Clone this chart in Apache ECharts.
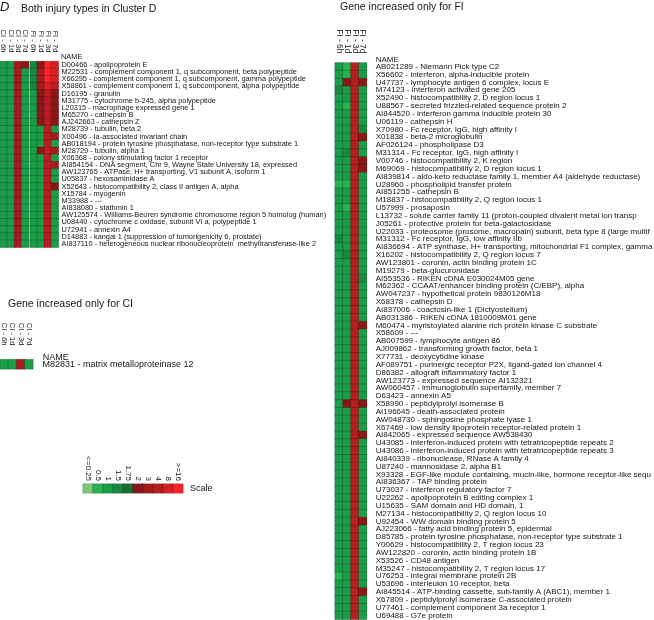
<!DOCTYPE html>
<html>
<head>
<meta charset="utf-8">
<script src="https://cdn.jsdelivr.net/npm/echarts@6/dist/echarts.min.js"></script>
<style>
  html, body { margin: 0; padding: 0; background: #fff; }
  #chart { width: 654px; height: 620px; }
</style>
</head>
<body>
<div id="chart"></div>
<script>
const colsDci = ["CI - 6h", "CI - 1d", "CI - 3d", "CI - 7d"];
const colsDfi = ["FI - 6h", "FI - 1d", "FI - 3d", "FI - 7d"];

const genesD = [
  "D00466 - apolipoprotein E",
  "M22531 - complement component 1, q subcomponent, beta polypeptide",
  "X66295 - complement component 1, q subcomponent, gamma polypeptide",
  "X58861 - complement component 1, q subcomponent, alpha polypeptide",
  "D16195 - granulin",
  "M31775 - cytochrome b-245, alpha polypeptide",
  "L20315 - macrophage expressed gene 1",
  "M65270 - cathepsin B",
  "AJ242663 - cathepsin Z",
  "M28739 - tubulin, beta 2",
  "X00496 - Ia-associated invariant chain",
  "AB018194 - protein tyrosine phosphatase, non-receptor type substrate 1",
  "M28729 - tubulin, alpha 1",
  "X06368 - colony stimulating factor 1 receptor",
  "AI854154 - DNA segment, Chr 9, Wayne State University 18, expressed",
  "AW123765 - ATPase, H+ transporting, V1 subunit A, isoform 1",
  "U05837 - hexosaminidase A",
  "X52643 - histocompatibility 2, class II antigen A, alpha",
  "X15784 - myogenin",
  "M33988 - ---",
  "AI838080 - stathmin 1",
  "AW125574 - Williams-Beuren syndrome chromosome region 5 homolog (human)",
  "U08440 - cytochrome c oxidase, subunit VI a, polypeptide 1",
  "U72941 - annexin A4",
  "D14883 - kangai 1 (suppression of tumorigenicity 6, prostate)",
  "AI837110 - heterogeneous nuclear ribonucleoprotein  methyltransferase-like 2",
];
// CI 6h,1d,3d,7d | FI 6h,1d,3d,7d
const valuesD = [
  [1, 1, 3, 2, 1.5, 2, 16, 8],
  [1, 1, 3, 1, 1.5, 3, 16, 8],
  [1, 1, 3, 1, 1.5, 3, 16, 8],
  [1, 1, 3, 1, 1.5, 3, 8, 4],
  [1, 1, 3, 1, 1, 2, 4, 2],
  [1, 1, 3, 1, 1, 2, 4, 2],
  [1, 1, 3, 1, 1, 2, 4, 2],
  [1, 1, 3, 1, 1, 2, 4, 2],
  [1, 1, 3, 1, 1, 2, 4, 2],
  [1, 1, 3, 1, 1, 1, 4, 1],
  [1, 1, 3, 1, 1, 1, 4, 3],
  [1, 1, 3, 1, 1, 1, 4, 1],
  [1, 1, 3, 1, 1, 2, 4, 3],
  [1, 1, 3, 1, 1, 1, 4, 1],
  [1, 1, 3, 1, 1, 1, 4, 3],
  [1, 1, 3, 1, 1, 1, 4, 1],
  [1, 1, 3, 1, 1, 1, 4, 1],
  [1, 1, 3, 1, 1, 1, 4, 2],
  [1, 1, 3, 1, 1, 1, 4, 1],
  [1, 1, 3, 1, 1, 1, 4, 1],
  [1, 1, 3, 1, 1, 1, 4, 1],
  [1, 1, 3, 1, 1, 1, 4, 1],
  [1, 1, 3, 1, 1, 1, 4, 1],
  [1, 1, 3, 1, 1, 1, 4, 1],
  [1, 1, 3, 1, 1, 1, 4, 1],
  [1, 1, 3, 1, 1, 1, 4, 1],
];

const colsCI = ["CI - 6h", "CI - 1d", "CI - 3d", "CI - 7d"];
const genesCI = ["M82831 - matrix metalloproteinase 12"];
const valuesCI = [[1, 1, 3, 1]];

const colsFI = ["FI - 6h", "FI - 1d", "FI - 3d", "FI - 7d"];
const genesFI = [
  "AB021289 - Niemann Pick type C2",
  "X56602 - interferon, alpha-inducible protein",
  "U47737 - lymphocyte antigen 6 complex, locus E",
  "M74123 - interferon activated gene 205",
  "X52490 - histocompatibility 2, D region locus 1",
  "U88567 - secreted frizzled-related sequence protein 2",
  "AI844520 - interferon gamma inducible protein 30",
  "U06119 - cathepsin H",
  "X70980 - Fc receptor, IgG, high affinity I",
  "X01838 - beta-2 microglobulin",
  "AF026124 - phospholipase D3",
  "M31314 - Fc receptor, IgG, high affinity I",
  "V00746 - histocompatibility 2, K region",
  "M69069 - histocompatibility 2, D region locus 1",
  "AI839814 - aldo-keto reductase family 1, member A4 (aldehyde reductase)",
  "U28960 - phospholipid transfer protein",
  "AI851255 - cathepsin B",
  "M18837 - histocompatibility 2, Q region locus 1",
  "U57999 - prosaposin",
  "L13732 - solute carrier family 11 (proton-coupled divalent metal ion transp",
  "J05261 - protective protein for beta-galactosidase",
  "U22033 - proteosome (prosome, macropain) subunit, beta type 8 (large multif",
  "M31312 - Fc receptor, IgG, low affinity IIb",
  "AI836694 - ATP synthase, H+ transporting, mitochondrial F1 complex, gamma p",
  "X16202 - histocompatibility 2, Q region locus 7",
  "AW123801 - coronin, actin binding protein 1C",
  "M19279 - beta-glucuronidase",
  "AI553536 - RIKEN cDNA E030024M05 gene",
  "M62362 - CCAAT/enhancer binding protein (C/EBP), alpha",
  "AW047237 - hypothetical protein 9830126M18",
  "X68378 - cathepsin D",
  "AI837006 - coactosin-like 1 (Dictyostelium)",
  "AB031386 - RIKEN cDNA 1810009M01 gene",
  "M60474 - myristoylated alanine rich protein kinase C substrate",
  "X58609 - ---",
  "AB007599 - lymphocyte antigen 86",
  "AJ009862 - transforming growth factor, beta 1",
  "X77731 - deoxycytidine kinase",
  "AF089751 - purinergic receptor P2X, ligand-gated ion channel 4",
  "D86382 - allograft inflammatory factor 1",
  "AW123773 - expressed sequence AI132321",
  "AW060457 - immunoglobulin superfamily, member 7",
  "D63423 - annexin A5",
  "X58990 - peptidylprolyl isomerase B",
  "AI196645 - death-associated protein",
  "AW048730 - sphingosine phosphate lyase 1",
  "X67469 - low density lipoprotein receptor-related protein 1",
  "AI842065 - expressed sequence AW538430",
  "U43085 - interferon-induced protein with tetratricopeptide repeats 2",
  "U43086 - interferon-induced protein with tetratricopeptide repeats 3",
  "AI840339 - ribonuclease, RNase A family 4",
  "U87240 - mannosidase 2, alpha B1",
  "X93328 - EGF-like module containing, mucin-like, hormone receptor-like sequ",
  "AI836367 - TAP binding protein",
  "U73037 - interferon regulatory factor 7",
  "U22262 - apolipoprotein B editing complex 1",
  "U15635 - SAM domain and HD domain, 1",
  "M27134 - histocompatibility 2, Q region locus 10",
  "U92454 - WW domain binding protein 5",
  "AJ223066 - fatty acid binding protein 5, epidermal",
  "D85785 - protein tyrosine phosphatase, non-receptor type substrate 1",
  "Y00629 - histocompatibility 2, T region locus 23",
  "AW122820 - coronin, actin binding protein 1B",
  "X53526 - CD48 antigen",
  "M35247 - histocompatibility 2, T region locus 17",
  "U76253 - integral membrane protein 2B",
  "U53696 - interleukin 10 receptor, beta",
  "AI845514 - ATP-binding cassette, sub-family A (ABC1), member 1",
  "X67809 - peptidylprolyl isomerase C-associated protein",
  "U77461 - complement component 3a receptor 1",
  "U69488 - G7e protein",
];
const valuesFI = [
  [1, 0.5, 4, 1], [1, 0.5, 4, 1], [1, 2, 4, 2], [1.5, 1, 4, 1], [1, 1, 4, 1],
  [1, 0.5, 4, 1], [1, 1, 4, 1], [1, 1, 4, 1], [1, 1, 4, 1.5], [1, 1, 4, 2],
  [1, 1, 4, 1], [1, 1.5, 4, 1], [1, 1, 4, 2], [1, 1, 4, 2], [1, 1, 4, 1],
  [0.5, 0.5, 4, 1], [1, 1, 4, 1], [1, 1, 4, 1], [1, 0.5, 4, 1], [1, 1, 4, 1],
  [1, 1, 4, 1], [1, 1, 4, 1], [1.5, 1, 4, 1], [1, 1, 4, 1], [1, 1.5, 4, 1],
  [1, 1, 4, 1], [1, 1, 4, 1], [1, 1, 4, 1.5], [1, 1, 4, 1], [1, 1, 4, 1],
  [1, 1, 4, 1], [1, 1, 4, 1], [1, 1, 4, 1], [1, 1, 4, 2], [1, 1, 4, 1],
  [1, 1, 4, 1], [1, 1, 4, 1], [1, 1, 4, 1], [1, 1, 4, 1], [1, 1, 4, 1],
  [1, 1, 4, 1], [1, 1, 4, 1], [1, 1, 4, 1], [1, 2, 4, 2], [1, 1, 4, 1],
  [1, 1, 4, 1], [1, 1, 4, 1], [1, 1, 4, 2], [1, 1, 4, 1], [1, 1, 4, 1],
  [1, 1, 4, 1], [1, 1, 4, 1], [1, 1, 4, 1], [1, 1, 4, 1], [1, 1, 4, 1],
  [1, 1, 4, 1], [1, 1, 4, 1], [1, 1, 4, 1], [1, 1, 4, 2], [1, 1, 4, 1],
  [1, 1, 4, 1], [1, 1, 4, 1], [1, 1, 4, 1], [1, 1, 4, 1], [1, 1, 4, 1],
  [0.5, 1, 4, 1], [1, 1, 4, 1], [1, 1, 4, 2], [1, 1, 4, 1], [1, 1, 4, 1],
  [1, 1, 4, 1],
];

const scaleLevels = [0.25, 0.5, 1, 1.5, 1.75, 2, 3, 4, 8, 16];
const scaleLabels = ["<=0.25", "0.5", "1", "1.5", "1.75", "2", "3", "4", "8", ">=16"];
const scaleColors = ["#7cc87c", "#25b24f", "#1b9c48", "#17883e", "#1a6e33",
                     "#8a1818", "#a51c1e", "#b81d20", "#d82024", "#f42428"];

const font = "Liberation Sans";
const ink = "#151515";

// rows -> [x, y, value] for columns [from, to)
function cells(rows, from, to) {
  const out = [];
  rows.forEach((row, y) => {
    for (let x = from; x < to; x++) out.push([x - from, y, row[x]]);
  });
  return out;
}

function colAxis(gridIndex, data, size, margin) {
  return {
    type: "category", gridIndex, data, position: "top",
    axisLine: { show: false }, axisTick: { show: false }, splitLine: { show: false },
    axisLabel: {
      rotate: 90, interval: 0, fontSize: size, margin, color: ink, fontFamily: font,
      hideOverlap: false,
    },
  };
}

function rowAxis(gridIndex, data, size, margin, show) {
  return {
    type: "category", gridIndex, data, inverse: true, position: "right",
    axisLine: { show: false }, axisTick: { show: false }, splitLine: { show: false },
    axisLabel: {
      show, interval: 0, fontSize: size, margin, align: "left", color: ink, fontFamily: font,
      hideOverlap: false,
    },
  };
}

const cellStyle = { borderColor: "rgba(0,0,0,0.3)", borderWidth: 0.6 };
const heat = (xi, data) => ({
  type: "heatmap", xAxisIndex: xi, yAxisIndex: xi, data,
  itemStyle: cellStyle, emphasis: { disabled: true }, silent: true,
});

const chart = echarts.init(document.getElementById("chart"), null, { renderer: "canvas" });
chart.setOption({
  animation: false,
  backgroundColor: "#fff",
  textStyle: { fontFamily: font },
  title: [
    { text: "D", left: 0, top: 1, padding: 0, textStyle: { fontSize: 13, fontStyle: "italic", fontWeight: "normal", color: ink, fontFamily: font } },
    { text: "Both injury types in Cluster D", left: 21, top: 3.5, padding: 0, textStyle: { fontSize: 10.5, fontWeight: "normal", color: ink, fontFamily: font } },
    { text: "Gene increased only for CI", left: 8, top: 298.5, padding: 0, textStyle: { fontSize: 10.5, fontWeight: "normal", color: ink, fontFamily: font } },
    { text: "Gene increased only for FI", left: 340, top: 2, padding: 0, textStyle: { fontSize: 10.5, fontWeight: "normal", color: ink, fontFamily: font } },
  ],
  graphic: [
    { type: "text", left: 61, top: 53.3, silent: true, style: { text: "NAME", fontSize: 7.4, fill: ink, fontFamily: font } },
    { type: "text", left: 42.7, top: 353.5, silent: true, style: { text: "NAME", fontSize: 9, fill: ink, fontFamily: font } },
    { type: "text", left: 375.7, top: 55.3, silent: true, style: { text: "NAME", fontSize: 8, fill: ink, fontFamily: font } },
  ],
  grid: [
    { left: 0, top: 61.4, width: 28.7, height: 186, outerBoundsMode: "none" },
    { left: 30, top: 61.4, width: 28.5, height: 186, outerBoundsMode: "none" },
    { left: 0, top: 359.5, width: 33, height: 9.5, outerBoundsMode: "none" },
    { left: 335, top: 62.8, width: 31.7, height: 556.6, outerBoundsMode: "none" },
    { left: 83, top: 484, width: 100, height: 9, outerBoundsMode: "none" },
  ],
  xAxis: [
    colAxis(0, colsDci, 7.6, 9),
    colAxis(1, colsDfi, 7.6, 9),
    colAxis(2, colsCI, 7.6, 14),
    colAxis(3, colsFI, 8.3, 9.5),
    colAxis(4, scaleLabels, 8, 3),
  ],
  yAxis: [
    rowAxis(0, genesD, 7.4, 3, false),
    rowAxis(1, genesD, 7.4, 3, true),
    rowAxis(2, genesCI, 9, 9.5, true),
    rowAxis(3, genesFI, 8, 9, true),
    rowAxis(4, ["Scale"], 9, 7, true),
  ],
  visualMap: {
    type: "piecewise", show: false, dimension: 2,
    pieces: scaleLevels.map((v, i) => ({ value: v, color: scaleColors[i] })),
  },
  series: [
    heat(0, cells(valuesD, 0, 4)),
    heat(1, cells(valuesD, 4, 8)),
    heat(2, cells(valuesCI, 0, 4)),
    heat(3, cells(valuesFI, 0, 4)),
    heat(4, scaleLevels.map((v, i) => [i, 0, v])),
  ],
});
</script>
</body>
</html>
